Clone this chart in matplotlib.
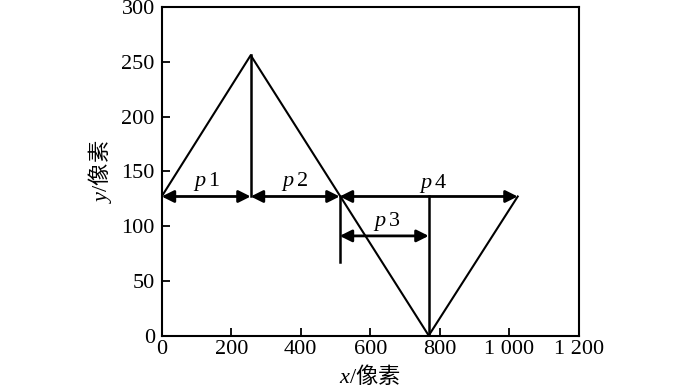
import matplotlib
matplotlib.use("Agg")
import matplotlib.pyplot as plt

plt.rcParams['font.family'] = ['Liberation Serif', 'Noto Sans CJK SC']
plt.rcParams['mathtext.fontset'] = 'custom'
plt.rcParams['mathtext.it'] = 'Liberation Serif:italic'
plt.rcParams['mathtext.sf'] = 'Liberation Serif'
plt.rcParams['mathtext.rm'] = 'Liberation Serif'

# polyline (signal)
line_x = [0, 256, 768, 1024]
line_y = [127, 256, 0, 127]

# vertical segments: x, y_bottom, y_top
vert_x = [256, 512, 768]
vert_y0 = [127, 67, 0]
vert_y1 = [256, 127, 127]

# double arrows: label, x_start, x_end, y, label position
arrow_labels = ['1', '2', '4', '3']
arrow_x0 = [0, 256, 512, 512]
arrow_x1 = [256, 512, 1024, 768]
arrow_y = [127, 127, 127, 91]
label_x = [128, 383, 780, 647]
label_y = [141, 141, 139, 104]

x_ticks = [0, 200, 400, 600, 800, 1000, 1200]
x_ticklabels = ['0', '200', '400', '600', '800', '1 000', '1 200']
y_ticks = [0, 50, 100, 150, 200, 250, 300]

fig = plt.figure(figsize=(7, 3.92), dpi=100)
ax = fig.add_axes([0.231, 0.144, 0.596, 0.838])

lw = 1.5
ax.plot(line_x, line_y, color='black', lw=lw)
for x, y0, y1 in zip(vert_x, vert_y0, vert_y1):
    ax.plot([x, x], [y0, y1], color='black', lw=lw + 0.3)

for lab, x0, x1, y, lx, ly in zip(arrow_labels, arrow_x0, arrow_x1, arrow_y, label_x, label_y):
    ax.annotate('', xy=(x1, y), xytext=(x0, y),
                arrowprops=dict(arrowstyle='<|-|>', color='black', lw=2,
                                mutation_scale=18, shrinkA=0, shrinkB=0))
    ax.text(lx, ly, r'$\mathit{p}\,\mathsf{' + lab + '}$', fontsize=16,
            ha='center', va='center')

ax.set_xlim(0, 1200)
ax.set_ylim(0, 300)
ax.set_xticks(x_ticks)
ax.set_xticklabels(x_ticklabels)
ax.set_yticks(y_ticks)
ax.tick_params(direction='in', length=6, width=1.3, labelsize=16)
ax.tick_params(axis='y', pad=5)
ax.tick_params(axis='x', pad=3)
for s in ax.spines.values():
    s.set_linewidth(1.5)

ax.set_xlabel(r'$\mathit{x}\mathsf{/}$像素', fontsize=16, labelpad=3,
              family='Noto Sans CJK SC')
ax.set_ylabel(r'$\mathit{y}\mathsf{/}$像素', fontsize=16, labelpad=5,
              family='Noto Sans CJK SC')

fig.savefig('out.png', dpi=100)
